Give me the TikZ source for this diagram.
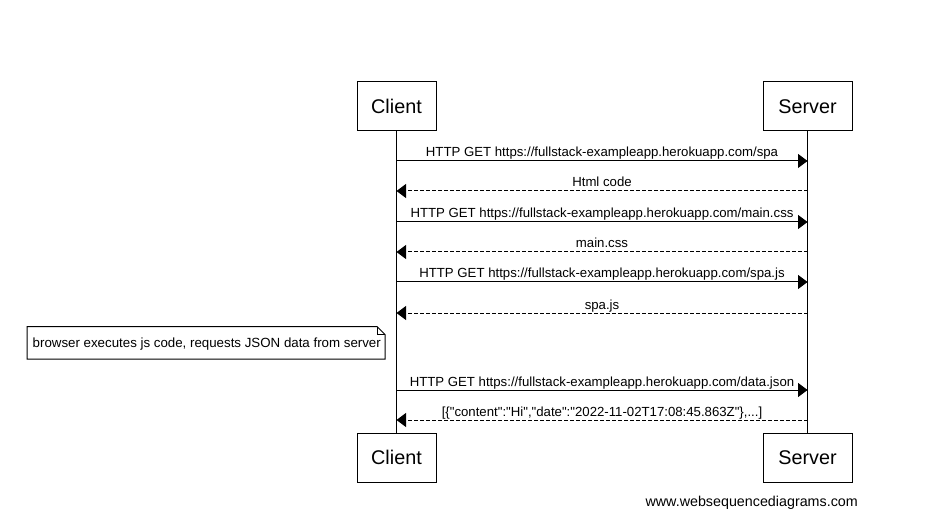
\documentclass[tikz,border=0pt]{standalone}
\usepackage{fontspec}
\setmainfont{Liberation Sans}
\usetikzlibrary{arrows.meta}
\begin{document}
\begin{tikzpicture}[x=1pt,y=-1pt,
  actor/.style={draw,line width=1pt,minimum height=49pt,inner sep=0pt,font=\fontsize{19.8}{22}\selectfont},
  lifeline/.style={line width=1pt},
  req/.style={line width=1pt,-{Triangle[length=9.5pt,width=14pt]}},
  resp/.style={line width=1pt,dash pattern=on 4pt off 2pt,-{Triangle[length=9.5pt,width=14pt]}},
  msglabel/.style={anchor=base,inner sep=0pt,font=\fontsize{13.2}{15}\selectfont},
  notebox/.style={draw,line width=1pt,fill=white},
  notetext/.style={anchor=base west,inner sep=0pt,font=\fontsize{13.3}{15}\selectfont}]
\useasboundingbox[fill=white] (0,0) rectangle (928,518);
\def\q{\textquotedbl}
% actors
\node[actor,minimum width=79pt] (ct) at (396.5,106.5) {Client};
\node[actor,minimum width=89pt] (st) at (807.5,106.5) {Server};
\node[actor,minimum width=79pt] (cb) at (396.5,457.5) {Client};
\node[actor,minimum width=89pt] (sb) at (807.5,457.5) {Server};
\draw[lifeline] (ct.south) -- (cb.north);
\draw[lifeline] (st.south) -- (sb.north);
% message end points on the lifelines
\foreach \n/\y in {1/161,2/191,3/222,4/252,5/282,6/313,7/390,8/420}{
  \coordinate (c\n) at (396.5,\y);
  \coordinate (s\n) at (807.5,\y);
}
\draw[req] (c1) -- (s1) node[msglabel,midway,yshift=4pt] {HTTP GET https://fullstack-exampleapp.herokuapp.com/spa};
\draw[resp] (s2) -- (c2) node[msglabel,midway,yshift=4pt] {Html code};
\draw[req] (c3) -- (s3) node[msglabel,midway,yshift=4pt] {HTTP GET https://fullstack-exampleapp.herokuapp.com/main.css};
\draw[resp] (s4) -- (c4) node[msglabel,midway,yshift=4pt] {main.css};
\draw[req] (c5) -- (s5) node[msglabel,midway,yshift=4pt] {HTTP GET https://fullstack-exampleapp.herokuapp.com/spa.js};
\draw[resp] (s6) -- (c6) node[msglabel,midway,yshift=4pt] {spa.js};
\draw[req] (c7) -- (s7) node[msglabel,midway,yshift=4pt] {HTTP GET https://fullstack-exampleapp.herokuapp.com/data.json};
\draw[resp] (s8) -- (c8) node[msglabel,midway,yshift=4pt] {[\{\q content\q:\q Hi\q,\q date\q:\q 2022-11-02T17:08:45.863Z\q\},...]};
% note
\draw[notebox] (27,326.5) -- (377,326.5) -- (385,334.5) -- (385,359) -- (27,359) -- cycle;
\draw[line width=1pt] (377,326.5) -- (377,334.5) -- (385,334.5);
\node[notetext] (note) at (32.5,347.5) {browser executes js code, requests JSON data from server};
% footer
\node[anchor=base east,inner sep=0pt,font=\fontsize{14.3}{16}\selectfont] (footer) at (858,506) {www.websequencediagrams.com};
\end{tikzpicture}
\end{document}
